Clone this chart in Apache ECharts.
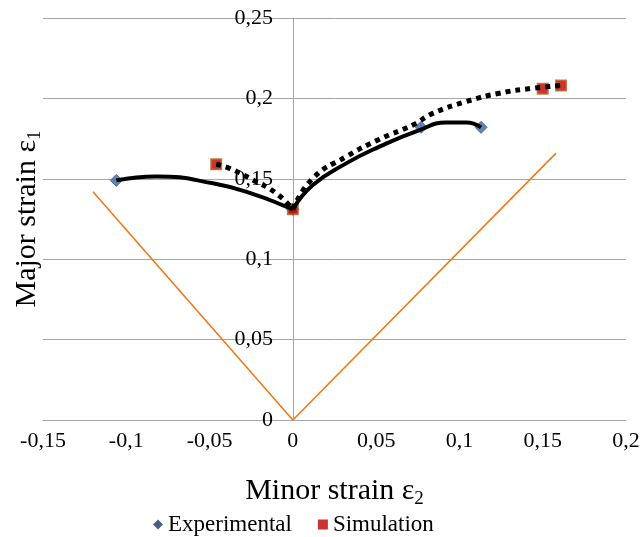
<!DOCTYPE html>
<html>
<head>
<meta charset="utf-8">
<script src="https://cdn.jsdelivr.net/npm/echarts@6/dist/echarts.min.js"></script>
<style>
  html, body { margin: 0; padding: 0; background: #fff; }
  #chart { width: 643px; height: 537px; }
</style>
</head>
<body>
<div id="chart"></div>
<script type="text/javascript">
// 试验点 / 仿真点 (minor strain, major strain)
var expPoints = [[-0.106, 0.149], [0, 0.131], [0.077, 0.182], [0.113, 0.182]];
var simPoints = [[-0.046, 0.159], [0, 0.131], [0.150, 0.206], [0.161, 0.208]];

// smoothed curves
var expCurveLeft = [[-0.106, 0.149], [-0.082, 0.1515], [-0.048, 0.1472], [-0.022, 0.1399], [-0.004, 0.1327], [0, 0.131]];
var expCurveRight = [[0, 0.131], [0.012, 0.1461], [0.032, 0.1596], [0.052, 0.170], [0.076, 0.1803], [0.092, 0.1850], [0.104, 0.1850], [0.113, 0.182]];
var simCurveLeft = [[-0.046, 0.159], [-0.038, 0.1565], [-0.024, 0.1493], [-0.010, 0.141], [0, 0.131]];
var simCurveRight = [[0, 0.131], [0.012, 0.1503], [0.032, 0.1638], [0.052, 0.1746], [0.072, 0.1835], [0.084, 0.1907], [0.104, 0.198], [0.124, 0.2032], [0.144, 0.2063], [0.161, 0.208]];

// forming limit reference line
var limitLine = [[-0.120, 0.142], [0, 0], [0.158, 0.166]];

var xTicks = { min: -0.15, max: 0.2, interval: 0.05 };
var yTicks = { min: 0, max: 0.25, interval: 0.05 };

var serif = 'Liberation Serif';

function commaFmt(v) {
    var s = String(Math.round(v * 1000) / 1000);
    return s.replace('.', ',');
}

var chart = echarts.init(document.getElementById('chart'));

var option = {
    animation: false,
    backgroundColor: '#fff',
    grid: { left: 43, right: 17, top: 18, bottom: 117, containLabel: false, outerBoundsMode: 'none' },
    legend: {
        top: 508,
        left: 148,
        itemGap: 26,
        itemWidth: 10,
        itemHeight: 10,
        textStyle: { fontFamily: serif, fontSize: 23, color: '#000' },
        data: [
            { name: 'Experimental', icon: 'diamond', itemStyle: { color: '#1F3864', borderWidth: 0 } },
            { name: 'Simulation', icon: 'rect', itemStyle: { color: '#C00000', borderWidth: 0 } }
        ]
    },
    xAxis: {
        type: 'value',
        min: xTicks.min, max: xTicks.max, interval: xTicks.interval,
        name: 'Minor strain ε{sub|2}',
        nameLocation: 'middle',
        nameGap: 54,
        nameTextStyle: {
            fontFamily: serif, fontSize: 30, color: '#000',
            rich: { sub: { fontFamily: serif, fontSize: 19, color: '#000', padding: [16, 0, 0, 0] } }
        },
        axisLine: { onZero: false, lineStyle: { color: '#A6A6A6', width: 1 } },
        axisTick: { show: false },
        splitLine: { show: false },
        axisLabel: { fontFamily: serif, fontSize: 22, color: '#000', margin: 10, formatter: commaFmt }
    },
    yAxis: {
        type: 'value',
        min: yTicks.min, max: yTicks.max, interval: yTicks.interval,
        // axis sits on x = 0 : shift it right from the grid's left edge
        offset: -250,
        name: 'Major strain ε{sub|1}',
        nameLocation: 'middle',
        nameGap: 248,
        nameTextStyle: {
            fontFamily: serif, fontSize: 30, color: '#000',
            rich: { sub: { fontFamily: serif, fontSize: 19, color: '#000', padding: [16, 0, 0, 0] } }
        },
        axisLine: { show: true, onZero: false, lineStyle: { color: '#A6A6A6', width: 1 } },
        axisTick: { show: false },
        splitLine: { show: true, lineStyle: { color: '#A6A6A6', width: 1 } },
        axisLabel: { fontFamily: serif, fontSize: 22, color: '#000', margin: 20, formatter: commaFmt }
    },
    series: [
        {
            name: 'limit', type: 'line', data: limitLine, symbol: 'none',
            lineStyle: { color: '#F07A1A', width: 1.6 }, z: 2
        },
        {
            name: 'Experimental', type: 'scatter', data: expPoints,
            symbol: 'diamond', symbolSize: 12,
            itemStyle: { color: '#3E6699', borderColor: '#2F5597', borderWidth: 1 }, z: 3
        },
        {
            name: 'Simulation', type: 'scatter', data: simPoints,
            symbol: 'rect', symbolSize: 10,
            itemStyle: { color: '#C00000', borderColor: '#B35A1F', borderWidth: 2 }, z: 3
        },
        {
            name: 'expL', type: 'line', data: expCurveLeft, symbol: 'none', smooth: true,
            lineStyle: { color: '#000', width: 4 }, z: 4
        },
        {
            name: 'expR', type: 'line', data: expCurveRight, symbol: 'none', smooth: true,
            lineStyle: { color: '#000', width: 4 }, z: 4
        },
        {
            name: 'simL', type: 'line', data: simCurveLeft, symbol: 'none', smooth: true,
            lineStyle: { color: '#000', width: 5, type: [5, 5], cap: 'butt' }, z: 5
        },
        {
            name: 'simR', type: 'line', data: simCurveRight, symbol: 'none', smooth: true,
            lineStyle: { color: '#000', width: 5, type: [5, 5], cap: 'butt' }, z: 5
        }
    ]
};

chart.setOption(option);
</script>
</body>
</html>
